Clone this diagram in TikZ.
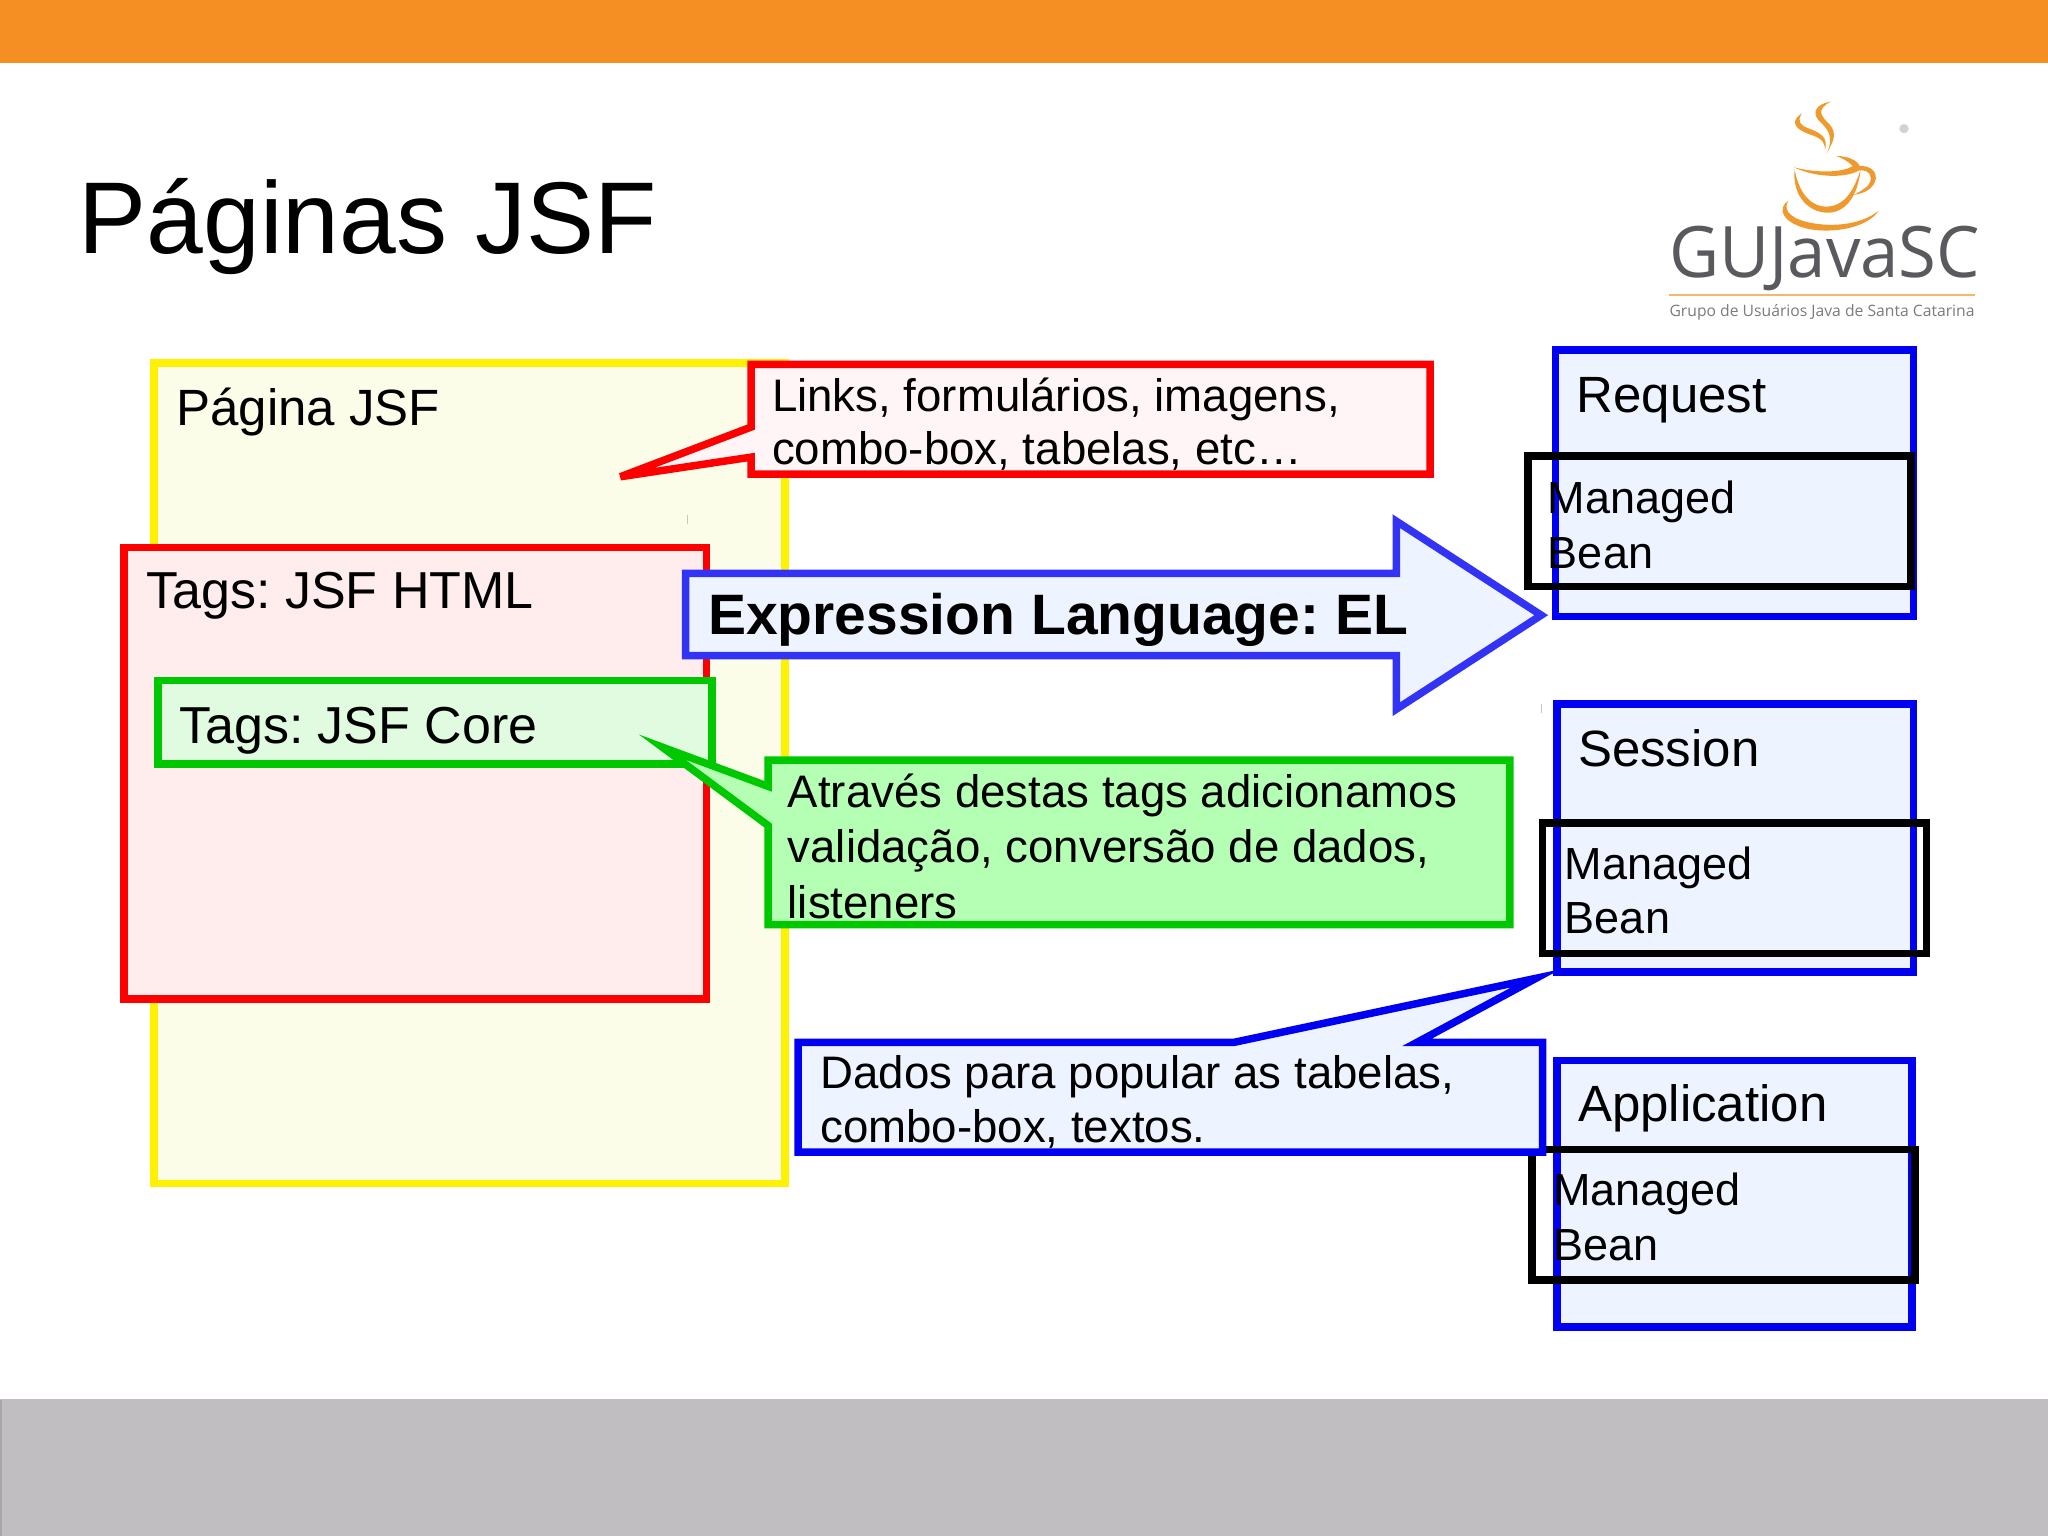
\documentclass[tikz,border=0pt]{standalone}
\usepackage{fontspec}
\setmainfont{Liberation Sans}
\newfontfamily\logofont{Open Sans}
\definecolor{topbar}{HTML}{F58F24}
\definecolor{botbar}{HTML}{C0BEC1}
\definecolor{botedge}{HTML}{A9A7AA}
\definecolor{yfill}{HTML}{FBFDE8}
\definecolor{rfill}{HTML}{FFECEC}
\definecolor{gfill}{HTML}{E0FBDF}
\definecolor{rcfill}{HTML}{FFF5F6}
\definecolor{gcfill}{HTML}{B5FFB5}
\definecolor{bfill}{HTML}{EDF4FF}
\definecolor{pblue}{HTML}{0000F2}
\definecolor{ablue}{HTML}{3333F5}
\definecolor{pgreen}{HTML}{00C800}
\definecolor{cup}{HTML}{EE9A2E}
\definecolor{logogrey}{HTML}{5A5A5E}
\tikzset{
  shapeline/.style={line width=7.5pt,miter limit=12},
  body/.style={anchor=base west,inner sep=0pt,font=\frenchspacing\fontsize{45.6}{45.6}\selectfont},
  big/.style={anchor=base west,inner sep=0pt,font=\frenchspacing\fontsize{51}{51}\selectfont},
  tagtext/.style={anchor=base west,inner sep=0pt,font=\frenchspacing\fontsize{52}{52}\selectfont},
  mb/.style={anchor=base west,inner sep=0pt,font=\fontsize{45}{45}\selectfont},
  scopebox/.style={shapeline,draw=pblue,fill=bfill},
  beanbox/.style={shapeline,draw=black},
}
\begin{document}
\begin{tikzpicture}[x=1.30612pt,y=-1.30612pt]
\useasboundingbox (0,0) rectangle (1568,1176);
\fill[white] (0,0) rectangle (1568,1176);
\fill[topbar] (0,0) rectangle (1568,48);
\fill[botbar] (0,1071) rectangle (1568,1176);
\draw[botedge,line width=1.5pt] (0.7,1072) -- (0.7,1176);
\node[anchor=base west,inner sep=0pt,font=\fontsize{102}{102}\selectfont] (title) at (60,194) {Páginas JSF};

% logo
\begin{scope}[xshift=1600pt,yshift=-80pt,x=0.33333pt,y=-0.33333pt]
\fill[cup] (692,65) .. controls (650,72) and (635,95) .. (655,120) .. controls (680,145) and (705,165) .. (680,222) .. controls (695,190) and (715,165) .. (690,135) .. controls (665,110) and (645,90) .. (692,65) -- cycle;
\fill[cup] (606,100) .. controls (575,120) and (580,140) .. (610,155) .. controls (640,170) and (675,170) .. (675,210) .. controls (685,170) and (660,158) .. (625,145) .. controls (600,135) and (590,125) .. (606,100) -- cycle;
\fill[cup] (708,228) .. controls (750,228) and (780,245) .. (782,268) .. controls (745,295) and (650,295) .. (582,262) .. controls (650,280) and (730,278) .. (758,258) .. controls (745,245) and (730,235) .. (708,228) -- cycle;
\fill[cup] (584,268) .. controls (575,350) and (630,402) .. (690,398) .. controls (750,392) and (775,330) .. (782,268) .. controls (762,330) and (735,378) .. (680,380) .. controls (630,380) and (595,335) .. (584,268) -- cycle;
\fill[cup] (775,258) .. controls (815,255) and (835,280) .. (825,305) .. controls (815,330) and (790,340) .. (760,345) .. controls (790,330) and (815,315) .. (812,292) .. controls (810,275) and (795,268) .. (772,272) -- cycle;
\fill[cup] (565,362) .. controls (530,385) and (545,430) .. (630,448) .. controls (720,462) and (810,435) .. (836,392) .. controls (790,430) and (710,442) .. (640,430) .. controls (580,420) and (545,395) .. (565,362) -- cycle;
\draw[color=cup!70,line width=1.4pt] (207,645) -- (1124,645);
\fill[gray!35] (912,146) circle (14);
\node[anchor=base west,inner sep=0pt,text=logogrey,xscale=0.97,font=\logofont\fontsize{71}{71}\selectfont] (logoname) at (207,592) {GUJavaSC};
\node[anchor=base west,inner sep=0pt,text=logogrey!80,font=\logofont\fontsize{15.7}{15.7}\selectfont] (logosub) at (208,711) {Grupo de Usuários Java de Santa Catarina};
\end{scope}

% page boxes
\draw[shapeline,draw=yellow,fill=yfill] (118,278) rectangle (601,906);
\node[big] (pagina) at (135,326) {Página JSF};
\draw[shapeline,draw=red,fill=rcfill,miter limit=4] (575,279) -- (1095,279) -- (1095,363) -- (575,363) -- (575,350) -- (475,365) -- (575,327) -- cycle;
\node[body] (links1) at (591,315) {Links, formulários, imagens,};
\node[body] (links2) at (591,356) {combo-box, tabelas, etc…};
\draw[gray!45,line width=0.8pt] (526,394) -- (526,401);
\draw[shapeline,draw=red,fill=rfill] (95,419) rectangle (541,765);
\node[tagtext] (html) at (112,466) {Tags: JSF HTML};
\draw[shapeline,draw=pgreen,fill=gfill] (121,521) rectangle (545,585);
\node[tagtext] (core) at (137,569) {Tags: JSF Core};
\draw[shapeline,draw=pgreen,fill=gcfill] (588,582) -- (1156,582) -- (1156,708) -- (588,708) -- (588,632) -- (507,572) -- (588,602) -- cycle;
\node[body] (atraves1) at (603,618) {Através destas tags adicionamos};
\node[body] (atraves2) at (603,660) {validação, conversão de dados,};
\node[body] (atraves3) at (603,703) {listeners};
\draw[shapeline,draw=ablue,fill=bfill] (525,439) -- (1069,439) -- (1069,399) -- (1180,471) -- (1069,543) -- (1069,502) -- (525,502) -- cycle;
\node[anchor=base west,inner sep=0pt,font=\frenchspacing\fontsize{57}{57}\selectfont\bfseries] (el) at (542,486) {Expression Language: EL};

% scopes
\draw[gray!45,line width=0.8pt] (1180,539) -- (1180,546);
\draw[scopebox] (1191,268) rectangle (1465,472);
\node[big] (req) at (1207,316) {Request};
\draw[beanbox] (1170,349) rectangle (1463,449);
\node[mb] (m1a) at (1185,393) {Managed};
\node[mb] (m1b) at (1185,435) {Bean};
\draw[scopebox] (1192,539) rectangle (1465,744);
\node[big] (ses) at (1208,587) {Session};
\draw[beanbox] (1181,630) rectangle (1475,730);
\node[mb] (m2a) at (1198,673) {Managed};
\node[mb] (m2b) at (1198,715) {Bean};
\draw[scopebox] (1192,812) rectangle (1464,1016);
\node[big] (app) at (1208,859) {Application};
\draw[beanbox] (1173,880) rectangle (1466,980);
\node[mb] (m3a) at (1189,923) {Managed};
\node[mb] (m3b) at (1189,965) {Bean};
\draw[shapeline,draw=pblue,fill=bfill] (611,798) -- (945,798) -- (1176,749) -- (1085,798) -- (1181,798) -- (1181,882) -- (611,882) -- cycle;
\node[body] (dados1) at (628,833) {Dados para popular as tabelas,};
\node[body] (dados2) at (628,875) {combo-box, textos.};
\end{tikzpicture}
\end{document}
